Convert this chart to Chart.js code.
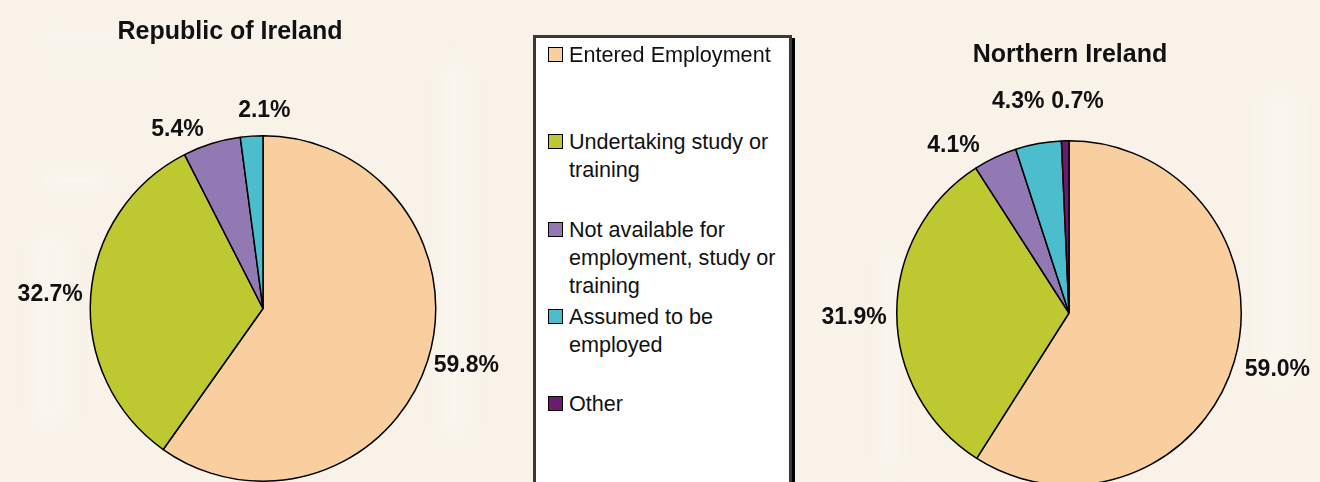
<!DOCTYPE html>
<html>
<head>
<meta charset="utf-8">
<script src="https://cdn.jsdelivr.net/npm/chart.js@4/dist/chart.umd.min.js"></script>
<style>
    html, body {
        margin: 0;
        padding: 0;
        width: 1320px;
        height: 482px;
        overflow: hidden;
        background: #f8f2e8;
        font-family: "Liberation Sans", Arial, sans-serif;
    }
    .patch {
        position: absolute;
        background: #fcf9f4;
        filter: blur(8px);
        opacity: 0.45;
    }
    canvas {
        position: absolute;
        top: 0;
    }
    .title {
        position: absolute;
        font-weight: bold;
        font-size: 25px;
        color: #111;
        transform: translate(-50%, -50%);
        white-space: nowrap;
    }
    #legend {
        position: absolute;
        left: 533px;
        top: 35px;
        width: 259px;
        height: 470px;
        box-sizing: border-box;
        border: 3px solid #3e3735;
        background: #fff;
        box-shadow: 3px 3px 0 #000;
    }
    .item {
        position: absolute;
        left: 33px;
        width: 220px;
        font-size: 21.6px;
        line-height: 28px;
        color: #111;
    }
    .swatch {
        position: absolute;
        left: -21px;
        top: 6px;
        width: 15px;
        height: 15px;
        box-sizing: border-box;
        border: 1.5px solid #000;
    }
</style>
</head>
<body>
<div class="patch" style="left:40px;top:28px;width:110px;height:18px"></div>
<div class="patch" style="left:45px;top:65px;width:120px;height:10px"></div>
<div class="patch" style="left:40px;top:165px;width:70px;height:30px"></div>
<div class="patch" style="left:30px;top:230px;width:40px;height:200px"></div>
<div class="patch" style="left:440px;top:60px;width:30px;height:380px"></div>
<div class="patch" style="left:1260px;top:90px;width:40px;height:300px"></div>
<div class="patch" style="left:880px;top:250px;width:20px;height:220px"></div>

<canvas id="roiChart" width="526" height="482" style="left:0"></canvas>
<canvas id="niChart" width="524" height="490" style="left:796px"></canvas>

<div class="title" style="left:230px;top:30px">Republic of Ireland</div>
<div class="title" style="left:1070px;top:53px">Northern Ireland</div>

<div id="legend"></div>

<script>
// Chart data
const categories = [
    'Entered Employment',
    'Undertaking study or training',
    'Not available for employment, study or training',
    'Assumed to be employed',
    'Other'
];
const roiValues = [59.8, 32.7, 5.4, 2.1, 0];
const niValues = [59.0, 31.9, 4.1, 4.3, 0.7];

const sliceColors = ['#f9cfa0', '#bec830', '#9279b4', '#4bbdcc', '#6b1a70'];

// Percentage labels outside each slice, Excel style
const outsideLabels = {
    id: 'outsideLabels',
    afterDatasetsDraw(chart, args, opts) {
        const ctx = chart.ctx;
        const meta = chart.getDatasetMeta(0);
        const values = chart.data.datasets[0].data;
        const nudges = opts.nudges || [];
        ctx.save();
        ctx.font = 'bold 23px "Liberation Sans", Arial, sans-serif';
        ctx.fillStyle = '#111';
        ctx.textAlign = 'center';
        ctx.textBaseline = 'middle';
        meta.data.forEach((arc, i) => {
            if (!values[i]) return;
            const p = arc.getProps(['x', 'y', 'startAngle', 'endAngle', 'outerRadius'], true);
            const mid = (p.startAngle + p.endAngle) / 2;
            const cos = Math.cos(mid);
            const sin = Math.sin(mid);
            const text = values[i].toFixed(1) + '%';
            const w = ctx.measureText(text).width;
            const d = p.outerRadius + 8;
            const n = nudges[i] || [0, 0];
            const x = p.x + d * cos + (w / 2) * cos + n[0];
            const y = p.y + d * sin + 9 * sin + n[1];
            ctx.fillText(text, x, y);
        });
        ctx.restore();
    }
};

const makePie = (id, values, padding, nudges) => {
    const ctx = document.getElementById(id).getContext('2d');
    return new Chart(ctx, {
        type: 'pie',
        data: {
            labels: categories,
            datasets: [{
                data: values,
                backgroundColor: sliceColors,
                borderColor: '#000',
                borderWidth: 1.5
            }]
        },
        options: {
            responsive: false,
            animation: false,
            layout: { padding: padding },
            plugins: {
                legend: { display: false },
                tooltip: { enabled: false },
                outsideLabels: { nudges: nudges }
            }
        },
        plugins: [outsideLabels]
    });
};

// Legend built from the categories
const buildLegend = () => {
    const legend = document.getElementById('legend');
    legend.innerHTML = categories.map((name, i) => `
        <div class="item" style="top:${3 + i * 87.3}px">
            <span class="swatch" style="background:${sliceColors[i]}"></span>${name}
        </div>
    `).join('');
};

document.addEventListener('DOMContentLoaded', () => {
    makePie('roiChart', roiValues,
        { left: 89, right: 89, top: 135, bottom: -1 },
        [[0, 0], [0, 0], [-24, 2], [15, -9], [0, 0]]);
    makePie('niChart', niValues,
        { left: 100, right: 78, top: 140, bottom: 4 },
        [[4, 4], [-2, 4], [-27, 4], [-14, -25], [13, -22]]);
    buildLegend();
});
</script>
</body>
</html>
